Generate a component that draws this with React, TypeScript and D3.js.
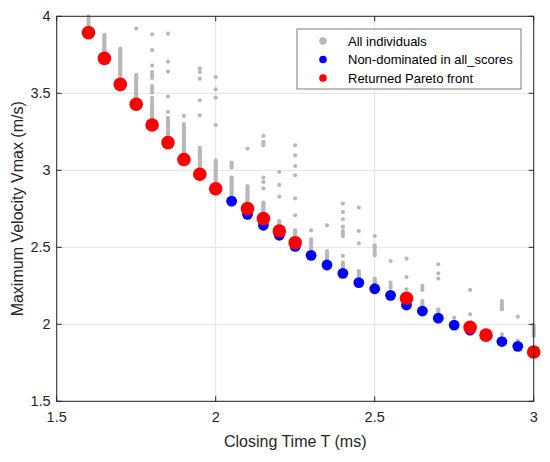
import React from "react";
import * as d3 from "d3";

// ---- data ----
const xTicks = [1.5, 2, 2.5, 3];
const yTicks = [1.5, 2, 2.5, 3, 3.5, 4];

// gray "All individuals": [closing time, list of vmax values]
const allIndividuals: [number, number[]][] = [
  [1.6, [3.9, 3.915, 3.93, 3.945, 3.96, 3.975, 3.99, 4.0]],
  [1.65, [3.74, 3.75, 3.76, 3.77, 3.78, 3.79, 3.8, 3.81, 3.82, 3.83, 3.84, 3.85, 3.86, 3.87, 3.88]],
  [1.7, [3.57, 3.58, 3.59, 3.6, 3.61, 3.62, 3.63, 3.64, 3.65, 3.66, 3.67, 3.68, 3.69, 3.7, 3.71, 3.72, 3.73, 3.74, 3.75, 3.76, 3.77, 3.78, 3.79]],
  [1.75, [3.44, 3.45, 3.46, 3.47, 3.48, 3.49, 3.5, 3.51, 3.52, 3.53, 3.54, 3.55, 3.56, 3.57, 3.58, 3.59, 3.6, 3.61, 3.62, 3.92]],
  [1.8, [3.31, 3.32, 3.33, 3.34, 3.35, 3.36, 3.37, 3.38, 3.39, 3.4, 3.41, 3.42, 3.43, 3.45, 3.47, 3.504, 3.515, 3.53, 3.547, 3.6, 3.617, 3.638, 3.68, 3.78, 3.883]],
  [1.85, [3.2, 3.21, 3.22, 3.23, 3.24, 3.25, 3.26, 3.27, 3.28, 3.29, 3.3, 3.31, 3.32, 3.33, 3.34, 3.379, 3.479, 3.641, 3.706, 3.887]],
  [1.9, [3.09, 3.1, 3.11, 3.12, 3.13, 3.14, 3.15, 3.16, 3.17, 3.18, 3.19, 3.2, 3.21, 3.22, 3.23, 3.24, 3.25, 3.26, 3.27, 3.28, 3.29, 3.3, 3.353]],
  [1.95, [3.0, 3.01, 3.02, 3.03, 3.04, 3.05, 3.06, 3.07, 3.08, 3.09, 3.1, 3.11, 3.12, 3.13, 3.147, 3.357, 3.455, 3.595, 3.638, 3.662]],
  [2.0, [2.91, 2.92, 2.93, 2.94, 2.95, 2.96, 2.97, 2.98, 2.99, 3.0, 3.01, 3.02, 3.03, 3.04, 3.05, 3.065, 3.294, 3.472, 3.526, 3.606]],
  [2.05, [2.833, 2.845, 2.855, 2.865, 2.875, 2.885, 2.895, 2.905, 2.915, 2.925, 2.935, 2.945, 2.953, 3.017, 3.028, 3.04, 3.05]],
  [2.1, [2.78, 2.79, 2.8, 2.81, 2.82, 2.83, 2.84, 2.85, 2.86, 2.87, 2.88, 2.89, 2.898, 3.141]],
  [2.15, [2.7, 2.71, 2.72, 2.73, 2.74, 2.75, 2.76, 2.77, 2.78, 2.79, 2.883, 2.924, 2.953, 3.162, 3.172, 3.184, 3.223]],
  [2.2, [2.617, 2.627, 2.637, 2.647, 2.657, 2.67, 2.829, 2.905, 2.99]],
  [2.25, [2.552, 2.562, 2.572, 2.582, 2.592, 2.602, 2.612, 2.708, 2.818, 2.968, 3.028, 3.097, 3.162]],
  [2.3, [2.47, 2.48, 2.49, 2.5, 2.51, 2.52, 2.53, 2.54, 2.552, 2.61]],
  [2.35, [2.422, 2.432, 2.442, 2.452, 2.462, 2.476, 2.643]],
  [2.4, [2.357, 2.367, 2.377, 2.388, 2.4, 2.444, 2.573, 2.59, 2.606, 2.634, 2.682, 2.73, 2.784]],
  [2.45, [2.303, 2.313, 2.324, 2.335, 2.346, 2.526, 2.606, 2.758]],
  [2.5, [2.27, 2.28, 2.29, 2.297, 2.448, 2.459, 2.48, 2.5, 2.513, 2.573]],
  [2.55, [2.238, 2.25, 2.27, 2.411]],
  [2.6, [2.227, 2.307, 2.426]],
  [2.65, [2.123, 2.135, 2.151, 2.223, 2.235, 2.25]],
  [2.7, [2.08, 2.09, 2.097, 2.297, 2.331, 2.39]],
  [2.75, [2.043]],
  [2.8, [2.065, 2.223]],
  [2.9, [1.935, 2.097, 2.11, 2.125, 2.138, 2.151]],
  [2.95, [1.892, 2.05]],
  [3.0, [1.924, 1.935, 1.947, 1.96, 1.97, 1.982, 1.994]],
];

// blue "Non-dominated in all_scores"
const nonDominated: [number, number][] = [
  [1.6, 3.894], [1.65, 3.727], [1.7, 3.558], [1.75, 3.429], [1.8, 3.294],
  [1.85, 3.18], [1.9, 3.07], [1.95, 2.974], [2.0, 2.88], [2.05, 2.8],
  [2.1, 2.714], [2.15, 2.643], [2.2, 2.578], [2.25, 2.506], [2.3, 2.448],
  [2.35, 2.385], [2.4, 2.331], [2.45, 2.271], [2.5, 2.231], [2.55, 2.188],
  [2.6, 2.125], [2.65, 2.086], [2.7, 2.04], [2.75, 1.995], [2.8, 1.962],
  [2.85, 1.93], [2.9, 1.888], [2.95, 1.857], [3.0, 1.82],
];

// red "Returned Pareto front"
const paretoFront: [number, number][] = [
  [1.6, 3.894], [1.65, 3.727], [1.7, 3.558], [1.75, 3.429], [1.8, 3.294],
  [1.85, 3.18], [1.9, 3.07], [1.95, 2.974], [2.0, 2.88], [2.1, 2.751],
  [2.15, 2.686], [2.2, 2.606], [2.25, 2.53], [2.6, 2.169], [2.8, 1.98],
  [2.85, 1.93], [3.0, 1.82],
];

const legendItems = [
  { label: "All individuals", color: "#b8b8b8" },
  { label: "Non-dominated in all_scores", color: "#0000ff" },
  { label: "Returned Pareto front", color: "#ff0000" },
];

// ---- layout ----
const W = 550;
const H = 462;
const left = 56.7;
const right = 533.7;
const top = 16.3;
const bottom = 401.3;
const axisColor = "#262626";
const font = "'Liberation Sans', Arial, Helvetica, sans-serif";

export default function App() {
  const x = d3.scaleLinear().domain([1.5, 3]).range([left, right]);
  const y = d3.scaleLinear().domain([1.5, 4]).range([bottom, top]);
  const tickLen = 5;

  const grayPts: [number, number][] = [];
  allIndividuals.forEach(([t, vs]) => vs.forEach((v) => grayPts.push([t, v])));

  return (
    <svg
      width={W}
      height={H}
      style={{ position: "absolute", left: 0, top: 0, background: "#fff" }}
      fontFamily={font}
    >
      <rect x={0} y={0} width={W} height={H} fill="#fff" />
      {/* grid */}
      {xTicks.map((t) => (
        <line key={"gx" + t} x1={x(t)} x2={x(t)} y1={top} y2={bottom} stroke="#e3e3e3" strokeWidth={1} />
      ))}
      {yTicks.map((t) => (
        <line key={"gy" + t} x1={left} x2={right} y1={y(t)} y2={y(t)} stroke="#e3e3e3" strokeWidth={1} />
      ))}

      {/* points */}
      <g>
        {grayPts.map(([t, v], i) => (
          <circle key={"g" + i} cx={x(t)} cy={y(v)} r={2.1} fill="#b8b8b8" />
        ))}
      </g>
      <g>
        {nonDominated.map(([t, v], i) => (
          <circle key={"b" + i} cx={x(t)} cy={y(v)} r={5.4} fill="#0000ff" />
        ))}
      </g>
      <g>
        {paretoFront.map(([t, v], i) => (
          <circle key={"r" + i} cx={x(t)} cy={y(v)} r={6.8} fill="#ff0000" />
        ))}
      </g>

      {/* axes box */}
      <rect x={left} y={top} width={right - left} height={bottom - top} fill="none" stroke={axisColor} strokeWidth={1} />
      {xTicks.map((t) => (
        <g key={"xt" + t}>
          <line x1={x(t)} x2={x(t)} y1={bottom} y2={bottom - tickLen} stroke={axisColor} />
          <line x1={x(t)} x2={x(t)} y1={top} y2={top + tickLen} stroke={axisColor} />
          <text x={x(t)} y={bottom + 21} textAnchor="middle" fontSize={14.5} fill={axisColor}>
            {String(t)}
          </text>
        </g>
      ))}
      {yTicks.map((t) => (
        <g key={"yt" + t}>
          <line x1={left} x2={left + tickLen} y1={y(t)} y2={y(t)} stroke={axisColor} />
          <line x1={right} x2={right - tickLen} y1={y(t)} y2={y(t)} stroke={axisColor} />
          <text x={left - 6} y={y(t) + 5} textAnchor="end" fontSize={14.5} fill={axisColor}>
            {String(t)}
          </text>
        </g>
      ))}

      {/* axis titles */}
      <text x={(left + right) / 2} y={447} textAnchor="middle" fontSize={16} fill={axisColor}>
        Closing Time T (ms)
      </text>
      <text
        transform={`translate(23, ${(top + bottom) / 2}) rotate(-90)`}
        textAnchor="middle"
        fontSize={16}
        fill={axisColor}
      >
        Maximum Velocity Vmax (m/s)
      </text>

      {/* legend */}
      <g>
        <rect x={297} y={29} width={224} height={60} fill="#fff" stroke="#5a5a5a" strokeWidth={0.8} />
        {legendItems.map((it, i) => (
          <g key={it.label}>
            <circle cx={323} cy={41 + i * 18.5} r={3.8} fill={it.color} />
            <text x={348} y={41 + i * 18.5 + 4.5} fontSize={13} fill="#000">
              {it.label}
            </text>
          </g>
        ))}
      </g>
    </svg>
  );
}
